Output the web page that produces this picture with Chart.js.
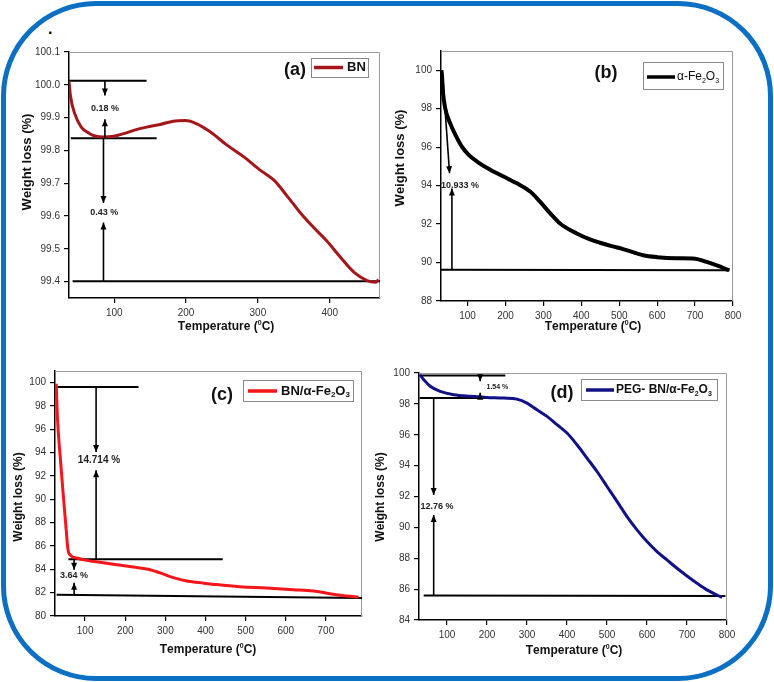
<!DOCTYPE html>
<html>
<head>
<meta charset="utf-8">
<script src="https://cdn.jsdelivr.net/npm/chart.js@4.4.1/dist/chart.umd.min.js"></script>
<style>
  html, body { margin: 0; padding: 0; background: #fff; }
  #wrap { position: relative; width: 774px; height: 682px; overflow: hidden; background: #fff; }
  #frame { position: absolute; left: 1px; top: 1px; width: 762px; height: 670px;
           border: 5px solid #0b6fc3; border-radius: 95px; }
  canvas { position: absolute; left: 0; top: 0; }
  #dot { position: absolute; left: 48px; top: 20px; font: bold 16px "Liberation Sans", Arial, sans-serif; }
</style>
</head>
<body>
<div id="wrap">
  <div id="frame"></div>
  <span id="dot">.</span>
  <canvas id="chartA" width="774" height="682"></canvas>
  <canvas id="chartB" width="774" height="682"></canvas>
  <canvas id="chartC" width="774" height="682"></canvas>
  <canvas id="chartD" width="774" height="682"></canvas>
</div>
<script>
// ---- data ----
// (a) BN
const tempA = [37, 39, 45, 54, 66, 75, 85, 99, 113, 127, 145, 164, 182, 199, 215, 234, 257, 280, 303, 322, 341, 359, 378, 396, 415, 434, 452, 464, 468];
const weightA = [100.012, 99.967, 99.912, 99.871, 99.851, 99.843, 99.841, 99.843, 99.851, 99.861, 99.871, 99.879, 99.889, 99.891, 99.881, 99.856, 99.816, 99.781, 99.74, 99.71, 99.66, 99.61, 99.564, 99.524, 99.474, 99.428, 99.403, 99.398, 99.406];
// (b) alpha-Fe2O3
const tempB = [31, 33, 35, 41, 54, 68, 85, 103, 125, 160, 204, 230, 265, 291, 318, 344, 388, 423, 449, 480, 510, 563, 600, 650, 700, 720, 750, 790];
const weightB = [100, 99.6, 98.9, 98.03, 97.25, 96.64, 96.03, 95.6, 95.25, 94.82, 94.38, 94.12, 93.69, 93.17, 92.56, 92.03, 91.51, 91.2, 91.03, 90.85, 90.7, 90.38, 90.28, 90.22, 90.2, 90.1, 89.9, 89.6];
// (c) BN/alpha-Fe2O3
const tempC = [28, 31, 38, 46, 53, 57, 64, 79, 104, 137, 179, 220, 262, 287, 320, 353, 386, 428, 486, 552, 619, 669, 710, 752, 781];
const weightC = [99.91, 97.06, 93.63, 90.2, 87.34, 85.77, 85.2, 84.97, 84.77, 84.6, 84.4, 84.2, 83.97, 83.69, 83.29, 83.0, 82.86, 82.69, 82.51, 82.4, 82.26, 82.14, 81.91, 81.71, 81.63];
// (d) PEG- BN/alpha-Fe2O3
const tempD = [32, 42, 58, 83, 117, 158, 200, 242, 275, 300, 325, 350, 375, 400, 425, 450, 475, 500, 525, 550, 575, 600, 625, 650, 675, 700, 725, 750, 775, 788];
const weightD = [99.89, 99.57, 99.14, 98.81, 98.59, 98.49, 98.42, 98.38, 98.31, 98.05, 97.62, 97.19, 96.65, 96.11, 95.35, 94.49, 93.62, 92.65, 91.68, 90.7, 89.84, 89.08, 88.43, 87.89, 87.35, 86.85, 86.38, 85.95, 85.62, 85.47];

// tick labels
const xTicksA = [100, 200, 300, 400];
const yTicksA = [99.4, 99.5, 99.6, 99.7, 99.8, 99.9, 100.0, 100.1];
const xTicksB = [100, 200, 300, 400, 500, 600, 700, 800];
const yTicksB = [88, 90, 92, 94, 96, 98, 100];
const xTicksC = [100, 200, 300, 400, 500, 600, 700];
const yTicksC = [80, 82, 84, 86, 88, 90, 92, 94, 96, 98, 100];
const xTicksD = [100, 200, 300, 400, 500, 600, 700, 800];
const yTicksD = [84, 86, 88, 90, 92, 94, 96, 98, 100];

// step marker lines [x1, x2, y1, y2]
const stepsA = [[37, 145, 100.012, 100.012], [39.5, 159, 99.837, 99.837], [42, 470, 99.401, 99.401]];
const stepsB = [[30, 791, 89.62, 89.6]];
const stepsC = [[29.5, 233, 99.63, 99.63], [58.5, 443, 84.86, 84.86], [29, 790, 81.82, 81.55]];
const stepsD = [[31.7, 246, 99.83, 99.83], [31.7, 267, 98.38, 98.38], [41.7, 796, 85.58, 85.55]];

// arrows [x1, y1, x2, y2] (head at the second point)
const arrowsA = [[87, 100.012, 87, 99.967], [87, 99.837, 87, 99.895], [85, 99.837, 85, 99.64], [85, 99.401, 85, 99.58]];
const arrowsB = [[34, 99.86, 52.6, 94.64], [58.8, 89.62, 58.8, 93.85]];
const arrowsC = [[127.4, 99.63, 127.4, 94.06], [127.4, 84.86, 127.4, 92.49], [72.6, 84.86, 72.6, 83.97], [72.6, 81.82, 72.6, 82.86]];
const arrowsD = [[66.7, 98.38, 66.7, 92.1], [66.7, 85.58, 66.7, 90.8], [183, 99.83, 183, 99.46], [183, 98.38, 183, 98.72]];

// step values [x, y, text, font size]
const notesA = [[87, 99.927, '0.18 %', 9], [86, 99.61, '0.43 %', 9]];
const notesB = [[80, 94.03, '10.933 %', 9]];
const notesC = [[134.6, 93.37, '14.714 %', 10], [72.3, 83.45, '3.64 %', 9]];
const notesD = [[226, 99.07, '1.54 %', 7], [75, 91.38, '12.76 %', 9]];

const FONT = '"Liberation Sans", Arial, Helvetica, sans-serif';
const W = 774, H = 682;

// draws text with _x (subscript) and ^x (superscript) markers
function richText(ctx, str, x, y, size, bold, align) {
  const parts = [];
  for (let i = 0; i < str.length; i++) {
    const c = str[i];
    if ((c === '_' || c === '^') && i + 1 < str.length) {
      parts.push([str[i + 1], c]);
      i++;
    } else {
      parts.push([c, '']);
    }
  }
  const w = bold ? 'bold ' : '';
  const small = Math.round(size * 0.6);
  let total = 0;
  parts.forEach(p => {
    ctx.font = w + (p[1] ? small : size) + 'px ' + FONT;
    p.push(ctx.measureText(p[0]).width);
    total += p[2];
  });
  let cx = align === 'center' ? x - total / 2 : x;
  ctx.textBaseline = 'middle';
  ctx.textAlign = 'left';
  parts.forEach(p => {
    ctx.font = w + (p[1] ? small : size) + 'px ' + FONT;
    const dy = p[1] === '_' ? size * 0.3 : p[1] === '^' ? -size * 0.35 : 0;
    ctx.fillText(p[0], cx, y + dy);
    cx += p[2];
  });
}

function drawArrow(ctx, x1, y1, x2, y2) {
  ctx.beginPath();
  ctx.moveTo(x1, y1);
  ctx.lineTo(x2, y2);
  ctx.stroke();
  const a = Math.atan2(y2 - y1, x2 - x1);
  const len = 7, hw = 3;
  ctx.beginPath();
  ctx.moveTo(x2, y2);
  ctx.lineTo(x2 - len * Math.cos(a) + hw * Math.sin(a), y2 - len * Math.sin(a) - hw * Math.cos(a));
  ctx.lineTo(x2 - len * Math.cos(a) - hw * Math.sin(a), y2 - len * Math.sin(a) + hw * Math.cos(a));
  ctx.closePath();
  ctx.fill();
}

const panelPlugin = {
  id: 'panelPlugin',
  beforeDatasetsDraw(chart) {
    const { ctx, chartArea: a } = chart;
    ctx.save();
    ctx.strokeStyle = '#9a9a9a';
    ctx.lineWidth = 1;
    ctx.beginPath();
    ctx.moveTo(a.left, a.top + 0.5);
    ctx.lineTo(a.right - 0.5, a.top + 0.5);
    ctx.lineTo(a.right - 0.5, a.bottom);
    ctx.stroke();
    ctx.restore();
  },
  afterDatasetsDraw(chart) {
    const p = chart.options.plugins.panelPlugin;
    const { ctx, scales: { x, y } } = chart;
    ctx.save();
    ctx.strokeStyle = '#000';
    ctx.fillStyle = '#000';
    ctx.lineWidth = 1.6;
    p.arrows.forEach(r => drawArrow(ctx, x.getPixelForValue(r[0]), y.getPixelForValue(r[1]),
                                          x.getPixelForValue(r[2]), y.getPixelForValue(r[3])));
    ctx.fillStyle = '#222';
    p.notes.forEach(n => richText(ctx, n[2], x.getPixelForValue(n[0]), y.getPixelForValue(n[1]), n[3], true, 'center'));

    // panel letter
    ctx.fillStyle = '#111';
    richText(ctx, p.letter[0], p.letter[1], p.letter[2], 18, true, 'center');

    // legend box
    const lg = p.legend;
    ctx.strokeStyle = '#8a8a8a';
    ctx.lineWidth = 1;
    ctx.strokeRect(lg.box[0] + 0.5, lg.box[1] + 0.5, lg.box[2] - lg.box[0], lg.box[3] - lg.box[1]);
    ctx.strokeStyle = p.color;
    ctx.lineWidth = 3.5;
    ctx.beginPath();
    ctx.moveTo(lg.line[0], lg.line[2]);
    ctx.lineTo(lg.line[1], lg.line[2]);
    ctx.stroke();
    ctx.fillStyle = '#111';
    richText(ctx, lg.text, lg.tx, lg.line[2], lg.size, lg.bold, 'left');

    // axis titles
    ctx.fillStyle = '#111';
    richText(ctx, 'Temperature (^0C)', p.xTitle[0], p.xTitle[1], p.xTitle[2], true, 'center');
    ctx.translate(p.yTitle[0], p.yTitle[1]);
    ctx.rotate(-Math.PI / 2);
    richText(ctx, 'Weight loss (%)', 0, 0, p.yTitle[2], true, 'center');
    ctx.restore();
  }
};

function buildPanel(id, cfg) {
  const yW = 40, xH = 30;
  const datasets = [{
    data: cfg.temps.map((t, i) => ({ x: t, y: cfg.weights[i] })),
    borderColor: cfg.color,
    borderWidth: cfg.lineWidth,
    pointRadius: 0,
    cubicInterpolationMode: 'monotone',
    order: 1
  }];
  cfg.steps.forEach(s => datasets.push({
    data: [{ x: s[0], y: s[2] }, { x: s[1], y: s[3] }],
    borderColor: '#000',
    borderWidth: 2,
    pointRadius: 0,
    order: 2
  }));
  const tickFont = { family: FONT, size: 10 };
  return new Chart(document.getElementById(id), {
    type: 'line',
    data: { datasets },
    options: {
      responsive: false,
      animation: false,
      events: [],
      layout: {
        padding: { left: cfg.box[0] - yW, top: cfg.box[1], right: W - cfg.box[2], bottom: H - cfg.box[3] - xH }
      },
      plugins: {
        legend: { display: false },
        tooltip: { enabled: false },
        panelPlugin: cfg
      },
      scales: {
        x: {
          type: 'linear',
          min: cfg.xRange[0],
          max: cfg.xRange[1],
          afterBuildTicks: s => { s.ticks = cfg.xTicks.map(v => ({ value: v })); },
          afterFit: s => { s.height = xH; },
          grid: { drawOnChartArea: false, tickLength: 5, color: '#000', lineWidth: 1.2 },
          border: { color: '#000', width: 1.5 },
          ticks: { color: '#333', font: tickFont, padding: 4, maxRotation: 0, autoSkip: false }
        },
        y: {
          min: cfg.yRange[0],
          max: cfg.yRange[1],
          afterBuildTicks: s => { s.ticks = cfg.yTicks.map(v => ({ value: v })); },
          afterFit: s => { s.width = yW; },
          grid: { drawOnChartArea: false, tickLength: 5, color: '#000', lineWidth: 1.2 },
          border: { color: '#000', width: 1.5 },
          ticks: { color: '#333', font: tickFont, padding: 4, autoSkip: false,
                   callback: v => v.toFixed(cfg.decimals) }
        }
      }
    },
    plugins: [panelPlugin]
  });
}

buildPanel('chartA', {
  temps: tempA, weights: weightA, color: '#a5161a', lineWidth: 3,
  box: [69, 52, 380, 298], xRange: [37, 470], yRange: [99.35, 100.1],
  xTicks: xTicksA, yTicks: yTicksA, decimals: 1,
  steps: stepsA, arrows: arrowsA, notes: notesA,
  letter: ['(a)', 295, 70],
  legend: { box: [311, 58, 368, 77], line: [314, 343, 67.5], text: 'BN', tx: 347, size: 13, bold: true },
  xTitle: [226, 327, 12], yTitle: [27, 162, 13]
});

buildPanel('chartB', {
  temps: tempB, weights: weightB, color: '#000', lineWidth: 4,
  box: [441, 51, 733, 301], xRange: [30, 800], yRange: [88, 101],
  xTicks: xTicksB, yTicks: yTicksB, decimals: 0,
  steps: stepsB, arrows: arrowsB, notes: notesB,
  letter: ['(b)', 606, 73],
  legend: { box: [643, 62, 723, 89], line: [647, 675, 77], text: 'α-Fe_2O_3', tx: 677, size: 12, bold: false },
  xTitle: [593, 327, 12], yTitle: [400, 158, 13]
});

buildPanel('chartC', {
  temps: tempC, weights: weightC, color: '#f4161a', lineWidth: 3,
  box: [55, 371, 362, 616], xRange: [25, 790], yRange: [80, 101],
  xTicks: xTicksC, yTicks: yTicksC, decimals: 0,
  steps: stepsC, arrows: arrowsC, notes: notesC,
  letter: ['(c)', 222, 395],
  legend: { box: [243, 380, 353, 401], line: [248, 277, 391], text: 'BN/α-Fe_2O_3', tx: 281, size: 13, bold: true },
  xTitle: [208, 650, 12], yTitle: [19, 497, 12]
});

buildPanel('chartD', {
  temps: tempD, weights: weightD, color: '#121286', lineWidth: 3,
  box: [419, 373, 727, 620], xRange: [30, 800], yRange: [84, 100],
  xTicks: xTicksD, yTicks: yTicksD, decimals: 0,
  steps: stepsD, arrows: arrowsD, notes: notesD,
  letter: ['(d)', 562, 393],
  legend: { box: [581, 379, 717, 400], line: [586, 614, 390], text: 'PEG- BN/α-Fe_2O_3', tx: 616, size: 12, bold: true },
  xTitle: [574, 651, 12], yTitle: [381, 497, 12]
});
</script>
</body>
</html>
